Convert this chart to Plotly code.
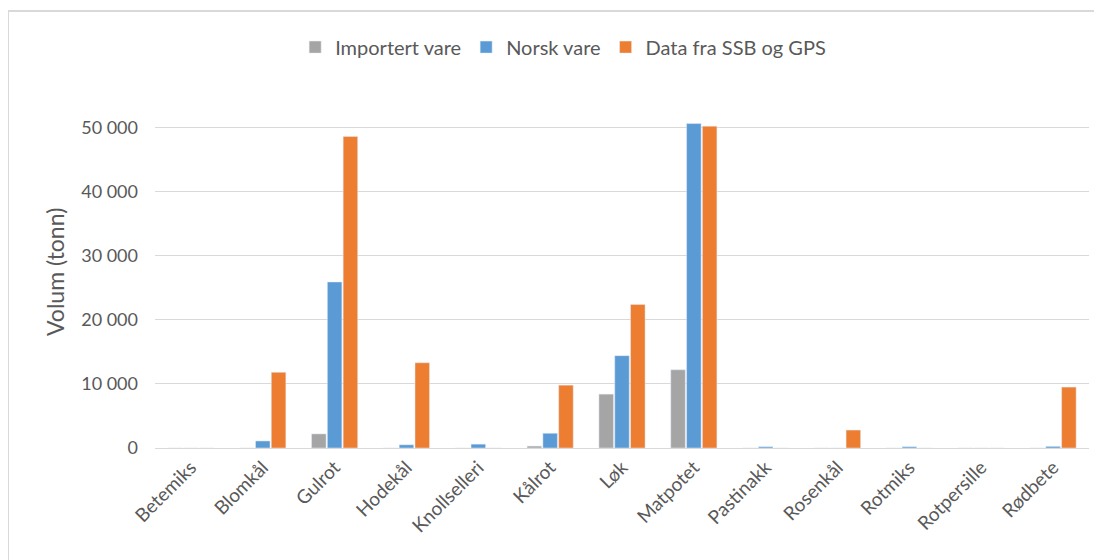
import plotly.graph_objects as go

# --- Data (tonn) ---
categories = ["Betemiks", "Blomkål", "Gulrot", "Hodekål", "Knollselleri", "Kålrot", "Løk",
              "Matpotet", "Pastinakk", "Rosenkål", "Rotmiks", "Rotpersille", "Rødbete"]
importert = [0, 0, 2200, 0, 0, 300, 8400, 12200, 0, 0, 0, 0, 0]
norsk = [0, 1100, 25900, 500, 600, 2300, 14400, 50600, 200, 0, 200, 0, 250]
ssb_gps = [0, 11800, 48600, 13300, 0, 9800, 22400, 50200, 0, 2800, 0, 0, 9500]

fig = go.Figure()
fig.add_trace(go.Bar(x=categories, y=importert, name="Importert vare", marker_color="#a5a5a5"))
fig.add_trace(go.Bar(x=categories, y=norsk, name="Norsk vare", marker_color="#5b9bd5"))
fig.add_trace(go.Bar(x=categories, y=ssb_gps, name="Data fra SSB og GPS", marker_color="#ed7d31"))

# --- Layout: Excel-like look ---
fig.update_layout(
    width=1102, height=560,
    margin=dict(l=147, r=21, t=113, b=120),
    paper_bgcolor="white", plot_bgcolor="white",
    font=dict(family="Lato, Liberation Sans, sans-serif", color="#595959", size=18),
    separators=", ",
    barmode="group", bargap=0.34, bargroupgap=0.08,
    showlegend=True,
    legend=dict(orientation="h", x=0.437, xanchor="center", y=1.226, yanchor="middle",
                font=dict(size=20), traceorder="normal"),
    xaxis=dict(tickangle=-45, showline=True, linecolor="#d9d9d9", linewidth=1,
               ticks="", tickfont=dict(size=19)),
    yaxis=dict(range=[0, 51000], tickvals=[0, 10000, 20000, 30000, 40000, 50000],
               tickformat=",d", showgrid=True, gridcolor="#d9d9d9", gridwidth=1,
               zeroline=False, ticks="", tickfont=dict(size=18), ticklabelstandoff=16),
)

# y-axis title, placed like the original
fig.add_annotation(text="Volum (tonn)", textangle=-90, showarrow=False,
                   xref="paper", yref="paper", x=(47 - 147) / 934, y=(440 - 264) / 327,
                   xanchor="center", yanchor="middle", font=dict(size=23))

# outer chart border
fig.add_shape(type="rect", xref="paper", yref="paper",
              x0=(0 - 147) / 934, x1=(1110 - 147) / 934,
              y0=(440 - 570) / 327, y1=(440 - 3) / 327,
              line=dict(color="#d9d9d9", width=2), layer="below")

fig.write_html("out.html")
